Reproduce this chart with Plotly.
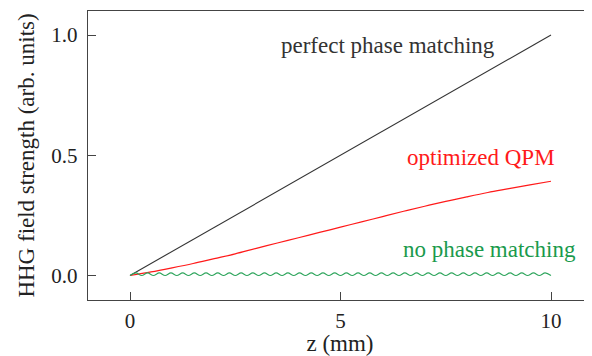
import numpy as np
import plotly.graph_objects as go

# ---- data ----
perfect_z = [0, 10]
perfect_val = [0.0, 1.0]

qpm_z = list(np.linspace(0, 10, 21))
qpm_val = [0.0, 0.015, 0.032, 0.050, 0.070, 0.090, 0.113, 0.135, 0.157, 0.179,
           0.201, 0.223, 0.245, 0.267, 0.288, 0.308, 0.327, 0.345, 0.361, 0.377, 0.392]

nopm_z = list(np.linspace(0, 10, 73))
nopm_val = [0.0, 0.011, 0.0, 0.011, 0.0, 0.011, 0.0, 0.011, 0.0, 0.011,
            0.0, 0.011, 0.0, 0.011, 0.0, 0.011, 0.0, 0.011, 0.0, 0.011,
            0.0, 0.011, 0.0, 0.011, 0.0, 0.011, 0.0, 0.011, 0.0, 0.011,
            0.0, 0.011, 0.0, 0.011, 0.0, 0.011, 0.0, 0.011, 0.0, 0.011,
            0.0, 0.011, 0.0, 0.011, 0.0, 0.011, 0.0, 0.011, 0.0, 0.011,
            0.0, 0.011, 0.0, 0.011, 0.0, 0.011, 0.0, 0.011, 0.0, 0.011,
            0.0, 0.011, 0.0, 0.011, 0.0, 0.011, 0.0, 0.011, 0.0, 0.011,
            0.0, 0.011, 0.0]

x_ticks = [0, 5, 10]
y_ticks = [0.0, 0.5, 1.0]
y_ticktext = ["0.0", "0.5", "1.0"]

labels = ["perfect phase matching", "optimized QPM", "no phase matching"]
label_z = [6.13, 8.34, 8.53]
label_y = [0.958, 0.49, 0.108]

BLACK = "#333333"
RED = "#ff1a1a"
GREEN_LINE = "#2ea55c"
GREEN_TEXT = "#1a9a4c"
FONT = "Liberation Serif"

fig = go.Figure()
fig.add_trace(go.Scatter(x=perfect_z, y=perfect_val, mode="lines",
                         line=dict(color=BLACK, width=1.1), showlegend=False))
fig.add_trace(go.Scatter(x=qpm_z, y=qpm_val, mode="lines",
                         line=dict(color=RED, width=1.2, shape="spline"), showlegend=False))
fig.add_trace(go.Scatter(x=nopm_z, y=nopm_val, mode="lines",
                         line=dict(color=GREEN_LINE, width=1.1, shape="spline"), showlegend=False))
# invisible trace on the right-hand axis to hold mirrored ticks
fig.add_trace(go.Scatter(x=perfect_z, y=perfect_val, yaxis="y2", mode="lines",
                         line=dict(width=0), opacity=0, hoverinfo="skip", showlegend=False))

colors = [BLACK, RED, GREEN_TEXT]
for t, zx, zy, c in zip(labels, label_z, label_y, colors):
    fig.add_annotation(x=zx, y=zy, text=t, showarrow=False,
                       font=dict(family=FONT, size=23, color=c))

# the page body adds an 8px offset, so the figure is sized to the visible area
yr = [-0.1019, 1.0998]
fig.update_layout(
    width=584, height=348,
    margin=dict(l=80, r=0, t=3, b=56),
    paper_bgcolor="white", plot_bgcolor="white",
    font=dict(family=FONT, size=21, color="#222222"),
    xaxis=dict(range=[-0.998, 10.974], tickvals=x_ticks, ticks="inside", ticklen=8,
               tickwidth=1.2, tickcolor="#444444", automargin=False,
               ticklabelstandoff=2,
               showline=True, linecolor="#444444", linewidth=1.4, mirror=True,
               showgrid=False, zeroline=False,
               title=dict(text="z (mm)", font=dict(family=FONT, size=23), standoff=5),
               tickfont=dict(family=FONT, size=21, color="#222222")),
    yaxis=dict(range=yr, tickvals=y_ticks, ticktext=y_ticktext, ticks="inside", ticklen=8,
               tickwidth=1.2, tickcolor="#444444", automargin=False,
               ticklabelstandoff=5,
               showline=True, linecolor="#444444", linewidth=1.4,
               showgrid=False, zeroline=False,
               title=dict(text="HHG field strength (arb. units)",
                          font=dict(family=FONT, size=23), standoff=10),
               tickfont=dict(family=FONT, size=21, color="#222222")),
    yaxis2=dict(range=yr, overlaying="y", side="right", tickvals=y_ticks,
                ticks="inside", ticklen=8, tickwidth=1.2, tickcolor="#444444",
                automargin=False,
                showticklabels=False, showline=False, showgrid=False, zeroline=False),
)

fig.write_html("out.html")
